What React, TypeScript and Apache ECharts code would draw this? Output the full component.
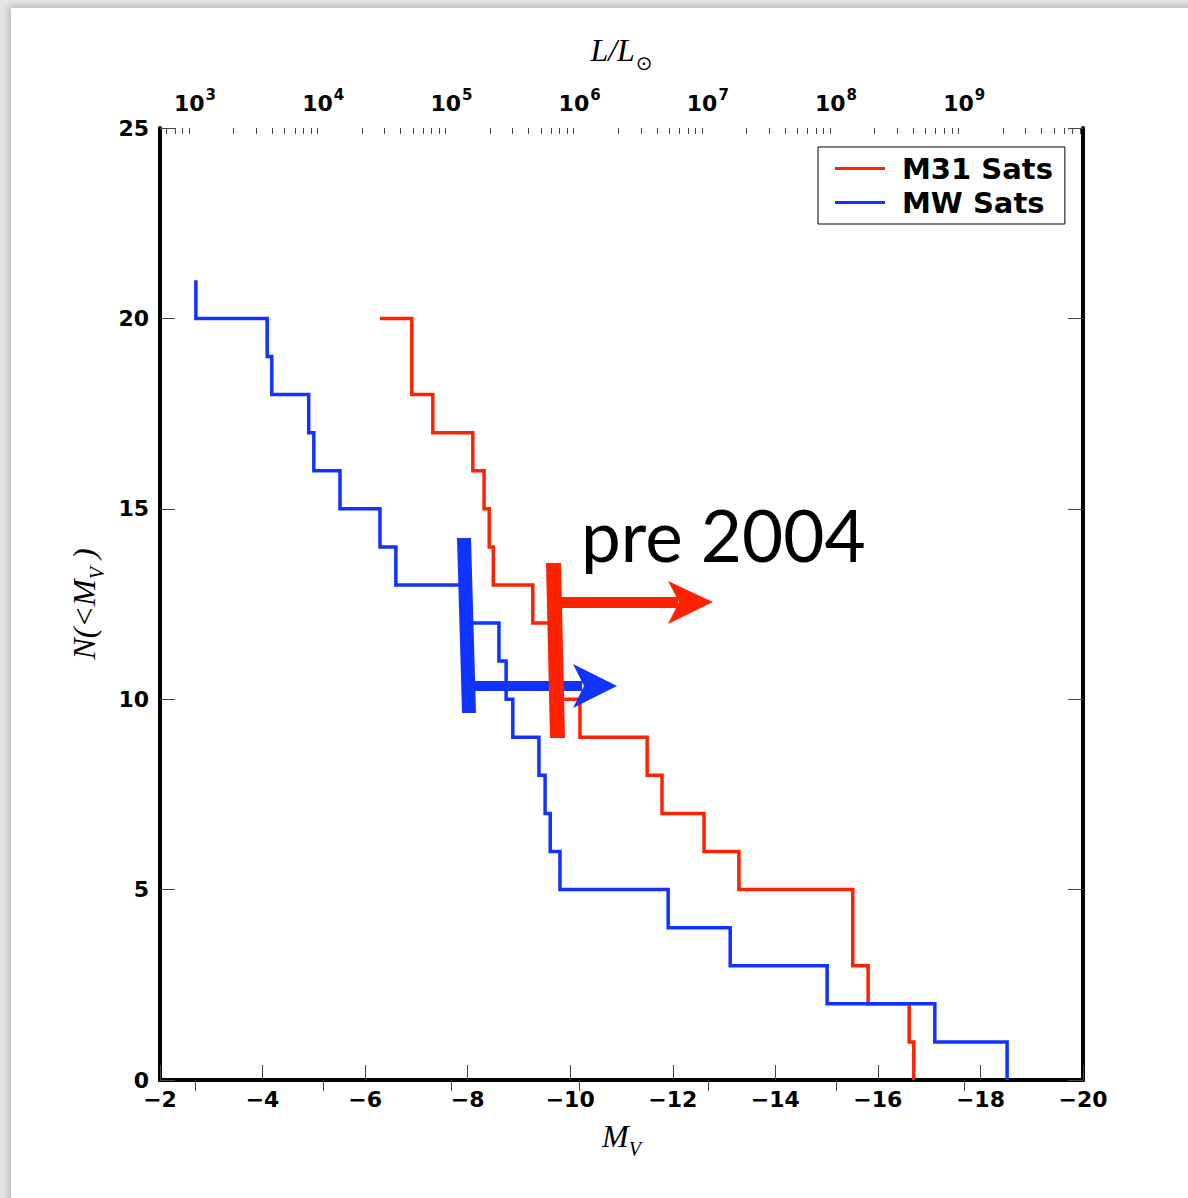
import React, { useEffect, useRef } from "react";
import * as echarts from "echarts";

// ---- Data ----
// Absolute V magnitudes of satellites (cumulative N(<M_V) is built from them)
const mwMags = [
  -18.52, -17.11, -15.01, -13.12, -11.91, -9.8, -9.61, -9.51, -9.39, -8.88, -8.75,
  -8.61, -7.97, -6.6, -6.29, -5.51, -5.0, -4.9, -4.18, -4.09, -2.7,
];
const m31Mags = [
  -16.7, -16.61, -15.81, -15.51, -15.51, -13.29, -12.61, -11.79, -11.5, -10.19, -9.75,
  -9.7, -9.27, -8.5, -8.42, -8.32, -8.1, -7.32, -6.91, -6.91,
];
const m31LineEnd = -6.29;
const seriesNames = ["M31 Sats", "MW Sats"];
const seriesColors = ["#ff2200", "#1133ff"];
const magTicks = [-2, -4, -6, -8, -10, -12, -14, -16, -18, -20];
const countTicks = [0, 5, 10, 15, 20, 25];
const lumExponents = [3, 4, 5, 6, 7, 8, 9];
const M_SUN = 4.817;
const annotationText = "pre 2004";

const MAG_MIN = -20;
const MAG_MAX = -2;
const logL = (m: number) => (M_SUN - m) / 2.5;

function cumulative(mags: number[], tailEnd?: number) {
  const sorted = [...mags].sort((a, b) => a - b);
  const pts: number[][] = [];
  sorted.forEach((m, i) => {
    pts.push([m, i]);
    pts.push([m, i + 1]);
  });
  if (tailEnd !== undefined) pts.push([tailEnd, sorted.length]);
  return pts;
}

const tickFont = { fontFamily: "DejaVu Sans", fontWeight: "bold" as const, fontSize: 22, color: "#000" };
const axisLine = { show: true, lineStyle: { color: "#000", width: 4 } };
const tickStyle = { color: "#444", width: 1 };
const serif = { fontFamily: "Liberation Serif", fontStyle: "italic" as const, color: "#000" };

export default function App() {
  const ref = useRef<HTMLDivElement>(null);

  useEffect(() => {
    if (!ref.current) return;
    const chart = echarts.init(ref.current, null, { renderer: "svg" });
    const lMin = logL(MAG_MAX);
    const lMax = logL(MAG_MIN);
    const minors: number[] = [];
    for (let e = 2; e <= 9; e++) {
      for (let k = 2; k <= 9; k++) {
        const v = e + Math.log10(k);
        if (v > lMin && v < lMax) minors.push(v);
      }
    }
    const blue = seriesColors[1];
    const red = seriesColors[0];

    chart.setOption({
      animation: false,
      grid: { left: 160, right: 105, top: 128, bottom: 118 },
      legend: {
        orient: "vertical",
        left: 818,
        top: 147,
        itemWidth: 50,
        itemHeight: 3,
        itemGap: 5,
        padding: [7, 12, 7, 17],
        borderColor: "#000",
        borderWidth: 1,
        textStyle: {
          fontFamily: "DejaVu Sans",
          fontWeight: "bold",
          fontSize: 29,
          color: "#000",
          padding: [0, 0, 0, 12],
        },
        data: seriesNames.map((n) => ({ name: n, icon: "rect" })),
      },
      xAxis: [
        {
          type: "value",
          position: "bottom",
          min: MAG_MIN,
          max: MAG_MAX,
          interval: 2,
          inverse: true,
          axisLine,
          axisTick: { inside: true, length: 15, lineStyle: tickStyle, customValues: magTicks },
          axisLabel: {
            ...tickFont,
            margin: 8,
            showMinLabel: true,
            showMaxLabel: true,
            formatter: (v: number) => String(v).replace("-", "\u2212"),
          },
          splitLine: { show: false },
          name: "{i|M}{s|V}",
          nameLocation: "middle",
          nameGap: 40,
          nameTextStyle: {
            rich: {
              i: { ...serif, fontSize: 32, verticalAlign: "bottom" },
              s: { ...serif, fontSize: 20, verticalAlign: "bottom", padding: [0, 0, -7, 0] },
            },
          },
        },
        {
          type: "value",
          position: "top",
          min: lMin,
          max: lMax,
          axisLine,
          axisTick: { inside: true, length: 11, lineStyle: tickStyle, customValues: lumExponents },
          axisLabel: {
            margin: 14,
            customValues: lumExponents,
            formatter: (v: number) => `{b|10}{s|${Math.round(v)}}`,
            rich: {
              b: { ...tickFont, verticalAlign: "bottom" },
              s: { ...tickFont, fontSize: 15, verticalAlign: "bottom", padding: [0, 0, 12, 1] },
            },
          },
          splitLine: { show: false },
          name: "{i|L/L}{s|\u2299}",
          nameLocation: "middle",
          nameGap: 62,
          nameTextStyle: {
            rich: {
              i: { ...serif, fontSize: 32, verticalAlign: "bottom" },
              s: { fontFamily: "DejaVu Sans", fontSize: 20, color: "#000", verticalAlign: "bottom", padding: [0, 0, -7, 1] },
            },
          },
        },
        {
          type: "value",
          position: "top",
          min: lMin,
          max: lMax,
          axisLine: { show: false },
          axisTick: { inside: true, length: 6, lineStyle: tickStyle, customValues: minors },
          axisLabel: { show: false },
          splitLine: { show: false },
        },
      ],
      yAxis: [
        {
          type: "value",
          position: "left",
          min: 0,
          max: 25,
          interval: 5,
          axisLine,
          axisTick: { inside: true, length: 15, lineStyle: tickStyle, customValues: countTicks },
          axisLabel: { ...tickFont, margin: 11, showMinLabel: true, showMaxLabel: true },
          splitLine: { show: false },
          name: "{i|N(<M}{s|V}{i| )}",
          nameLocation: "middle",
          nameRotate: 90,
          nameGap: 60,
          nameTextStyle: {
            rich: {
              i: { ...serif, fontSize: 32, verticalAlign: "bottom" },
              s: { ...serif, fontSize: 20, verticalAlign: "bottom", padding: [0, 0, -7, 0] },
            },
          },
        },
        {
          type: "value",
          position: "right",
          min: 0,
          max: 25,
          interval: 5,
          axisLine,
          axisTick: { inside: true, length: 15, lineStyle: tickStyle, customValues: countTicks },
          axisLabel: { show: false },
          splitLine: { show: false },
        },
      ],
      series: [
        {
          name: seriesNames[0],
          type: "line",
          xAxisIndex: 0,
          yAxisIndex: 0,
          showSymbol: false,
          color: red,
          lineStyle: { width: 3.5, color: red, join: "miter" },
          data: cumulative(m31Mags, m31LineEnd),
        },
        {
          name: seriesNames[1],
          type: "line",
          xAxisIndex: 0,
          yAxisIndex: 0,
          showSymbol: false,
          color: blue,
          lineStyle: { width: 3.5, color: blue, join: "miter" },
          data: cumulative(mwMags),
        },
      ],
      graphic: [
        // blue marker bar and arrow
        { type: "polygon", z: 100, shape: { points: [[457, 538], [471, 538], [476, 713], [462, 713]] }, style: { fill: blue } },
        { type: "rect", z: 100, shape: { x: 470, y: 681, width: 112, height: 10 }, style: { fill: blue } },
        { type: "polygon", z: 100, shape: { points: [[573, 664], [617, 686], [573, 708], [584, 686]] }, style: { fill: blue } },
        // red marker bar and arrow
        { type: "polygon", z: 101, shape: { points: [[546, 563], [561, 563], [565, 738], [550, 738]] }, style: { fill: red } },
        { type: "rect", z: 101, shape: { x: 558, y: 597, width: 120, height: 11 }, style: { fill: red } },
        { type: "polygon", z: 101, shape: { points: [[668, 581], [713, 602], [668, 624], [679, 602]] }, style: { fill: red } },
        {
          type: "text",
          z: 102,
          x: 581,
          y: 534,
          style: { text: annotationText, fontFamily: "Lato", fontSize: 71, fill: "#000", verticalAlign: "middle", align: "left" },
        },
      ],
    });
    return () => chart.dispose();
  }, []);

  return (
    <div style={{ position: "fixed", left: 0, top: 0, width: 1188, height: 1198, overflow: "hidden", background: "#e6e6e6" }}>
      <div
        style={{
          position: "absolute",
          left: 11,
          top: 8,
          width: 1300,
          height: 1300,
          background: "#fff",
          boxShadow: "0 0 8px 2px rgba(0,0,0,0.22)",
        }}
      />
      <div ref={ref} style={{ position: "absolute", left: 0, top: 0, width: 1188, height: 1198 }} />
    </div>
  );
}
